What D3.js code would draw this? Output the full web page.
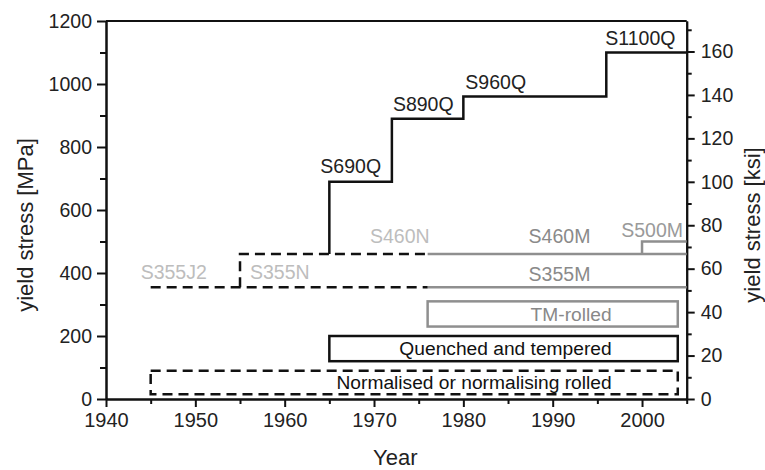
<!DOCTYPE html>
<html>
<head>
<meta charset="utf-8">
<script src="https://cdn.jsdelivr.net/npm/d3@7"></script>
<style>
  body { margin: 0; background: #fff; }
  svg { display: block; font-family: "Liberation Sans", Arial, sans-serif; }
  .axis path, .axis line { stroke: #111; stroke-width: 2; }
  .axis text { fill: #222; font-size: 19.5px; }
</style>
</head>
<body>
<div id="chart"></div>
<script>
/* Development of steel yield strengths over time: stepped grade lines
 * (normalised dashed, TM-rolled grey, quenched & tempered black) plus
 * three boxes naming the delivery conditions. Left axis MPa, right ksi. */

const yearTicks = d3.range(1940, 2001, 10);
const mpaTicks = d3.range(0, 1201, 200);
const ksiTicks = d3.range(0, 161, 20);
const MPA_PER_KSI = 6.895;

// quenched and tempered grades: [grade, year introduced, yield MPa]
const quenched = [
  ["S690Q", 1965, 690],
  ["S890Q", 1972, 890],
  ["S960Q", 1980, 960],
  ["S1100Q", 1996, 1100],
];
const quenchedBase = 460;     // step rises from the S460N line
// normalised grades (dashed black)
const normalised = [
  ["S355J2", 1945, 355],
  ["S355N", 1955, 355],
  ["S460N", 1955, 460],
];
// thermomechanically rolled grades (grey)
const tmRolled = [
  ["S355M", 1976, 355],
  ["S460M", 1976, 460],
  ["S500M", 2000, 500],
];
const endYear = 2005;
// delivery-condition boxes: [label, fromYear, toYear, lowMPa, highMPa]
const boxes = [
  ["TM-rolled", 1976, 2004, 230, 310],
  ["Quenched and tempered", 1965, 2004, 120, 200],
  ["Normalised or normalising rolled", 1945, 2004, 15, 90],
];

const W = 765, H = 470;
const x = d3.scaleLinear().domain([1940, 2005]).range([106, 686.7]);
const y = d3.scaleLinear().domain([0, 1200]).range([399, 21]);
const yk = d3.scaleLinear().domain([0, 1200 / MPA_PER_KSI]).range([399, 21]);

const svg = d3.select("#chart").append("svg").attr("width", W).attr("height", H);

// frame top edge
svg.append("line")
  .attr("x1", x(1940)).attr("x2", x(2005))
  .attr("y1", y(1200)).attr("y2", y(1200))
  .attr("stroke", "#111").attr("stroke-width", 2);

// minor ticks first, major axes on top
svg.append("g").attr("class", "axis").attr("transform", `translate(${x(1940)},0)`)
  .call(d3.axisLeft(y).tickValues(d3.range(100, 1200, 200)).tickSize(6).tickFormat("").tickSizeOuter(0));
svg.append("g").attr("class", "axis").attr("transform", `translate(${x(1940)},0)`)
  .call(d3.axisLeft(y).tickValues(mpaTicks).tickSize(9).tickPadding(5)
    .tickFormat(d3.format("d")).tickSizeOuter(0));

svg.append("g").attr("class", "axis").attr("transform", `translate(0,${y(0)})`)
  .call(d3.axisBottom(x).tickValues(d3.range(1945, 2006, 10)).tickSize(5).tickFormat("").tickSizeOuter(0));
svg.append("g").attr("class", "axis").attr("transform", `translate(0,${y(0)})`)
  .call(d3.axisBottom(x).tickValues(yearTicks).tickSize(8).tickPadding(6)
    .tickFormat(d3.format("d")).tickSizeOuter(0))
  .call(g => g.selectAll("text").style("font-size", "20px"));

svg.append("g").attr("class", "axis").attr("transform", `translate(${x(2005)},0)`)
  .call(d3.axisRight(yk).tickValues(d3.range(10, 171, 20)).tickSize(5).tickFormat("").tickSizeOuter(0));
svg.append("g").attr("class", "axis").attr("transform", `translate(${x(2005)},0)`)
  .call(d3.axisRight(yk).tickValues(ksiTicks).tickSize(8).tickPadding(6).tickSizeOuter(0));

// axis titles
svg.append("text").attr("transform", `translate(25,${(y(0) + y(1200)) / 2 + 15}) rotate(-90)`)
  .attr("text-anchor", "middle").attr("dy", "0.35em")
  .attr("font-size", 22).attr("fill", "#222").text("yield stress [MPa]");
svg.append("text").attr("transform", `translate(752,${(y(0) + y(1200)) / 2 + 15}) rotate(-90)`)
  .attr("text-anchor", "middle").attr("dy", "0.35em")
  .attr("font-size", 22).attr("fill", "#222").text("yield stress [ksi]");
svg.append("text").attr("x", (x(1940) + x(2005)) / 2 - 1).attr("y", 465)
  .attr("text-anchor", "middle").attr("font-size", 22).attr("fill", "#222").text("Year");

const line = d3.line().x(d => x(d[0])).y(d => y(d[1]));

// boxes
const gray = "#8f8f8f";
const boxStyle = [
  { stroke: gray, dash: null, text: "#888" },
  { stroke: "#111", dash: null, text: "#111" },
  { stroke: "#111", dash: "10,6", text: "#111" },
];
boxes.forEach(([label, y0r, y1r, lo, hi], i) => {
  const s = boxStyle[i];
  svg.append("rect")
    .attr("x", x(y0r)).attr("y", y(hi))
    .attr("width", x(y1r) - x(y0r)).attr("height", y(lo) - y(hi))
    .attr("fill", "none").attr("stroke", s.stroke).attr("stroke-width", 2.5)
    .attr("stroke-dasharray", s.dash);
  svg.append("text")
    .attr("x", x(1996.6)).attr("y", (y(lo) + y(hi)) / 2)
    .attr("dy", "0.35em").attr("text-anchor", "end")
    .attr("font-size", 19.2).attr("fill", s.text).text(label);
});

// TM-rolled grey lines
const s355 = tmRolled[0], s460 = tmRolled[1], s500 = tmRolled[2];
svg.append("path").attr("d", line([[s355[1], s355[2]], [endYear, s355[2]]]))
  .attr("fill", "none").attr("stroke", gray).attr("stroke-width", 2.5);
svg.append("path").attr("d", line([[s460[1], s460[2]], [endYear, s460[2]]]))
  .attr("fill", "none").attr("stroke", gray).attr("stroke-width", 2.5);
svg.append("path").attr("d", line([[s500[1], s460[2]], [s500[1], s500[2]], [endYear, s500[2]]]))
  .attr("fill", "none").attr("stroke", gray).attr("stroke-width", 2.5);

// normalised dashed lines, ending where TM grades take over
const tmStart = tmRolled[0][1];
svg.append("path").attr("d", line([[normalised[0][1], normalised[0][2]], [tmStart, normalised[0][2]]]))
  .attr("fill", "none").attr("stroke", "#111").attr("stroke-width", 2.5).attr("stroke-dasharray", "10,6");
svg.append("path").attr("d", line([[normalised[1][1], normalised[1][2]], [normalised[2][1], normalised[2][2]], [tmStart, normalised[2][2]]]))
  .attr("fill", "none").attr("stroke", "#111").attr("stroke-width", 2.5).attr("stroke-dasharray", "10,6");

// quenched and tempered step line
const qPts = [[quenched[0][1], quenchedBase]];
quenched.forEach((q, i) => {
  qPts.push([q[1], q[2]]);
  const next = i + 1 < quenched.length ? quenched[i + 1][1] : endYear;
  qPts.push([next, q[2]]);
});
svg.append("path").attr("d", line(qPts))
  .attr("fill", "none").attr("stroke", "#111").attr("stroke-width", 2.5);

// grade labels: [dx from grade year, dy above level, anchor, colour]
const labelLayout = {
  S690Q: [-9, -9, "start", "#222"],
  S890Q: [1, -8, "start", "#222"],
  S960Q: [2, -8, "start", "#222"],
  S1100Q: [-1, -8, "start", "#222"],
  S355J2: [-10, -8, "start", "#bdbdbd"],
  S355N: [10, -8, "start", "#bdbdbd"],
  S460N: [130, -11, "start", "#bdbdbd"],
  S355M: [101, -6, "start", "#8a8a8a"],
  S460M: [101, -11, "start", "#8a8a8a"],
  S500M: [41, -5, "end", "#9a9a9a"],
};
[...quenched, ...normalised, ...tmRolled].forEach(([g, yr, mpa]) => {
  const [dx, dy, anchor, col] = labelLayout[g];
  svg.append("text")
    .attr("x", x(yr) + dx).attr("y", y(mpa) + dy)
    .attr("text-anchor", anchor).attr("font-size", 19.5).attr("fill", col).text(g);
});
</script>
</body>
</html>
